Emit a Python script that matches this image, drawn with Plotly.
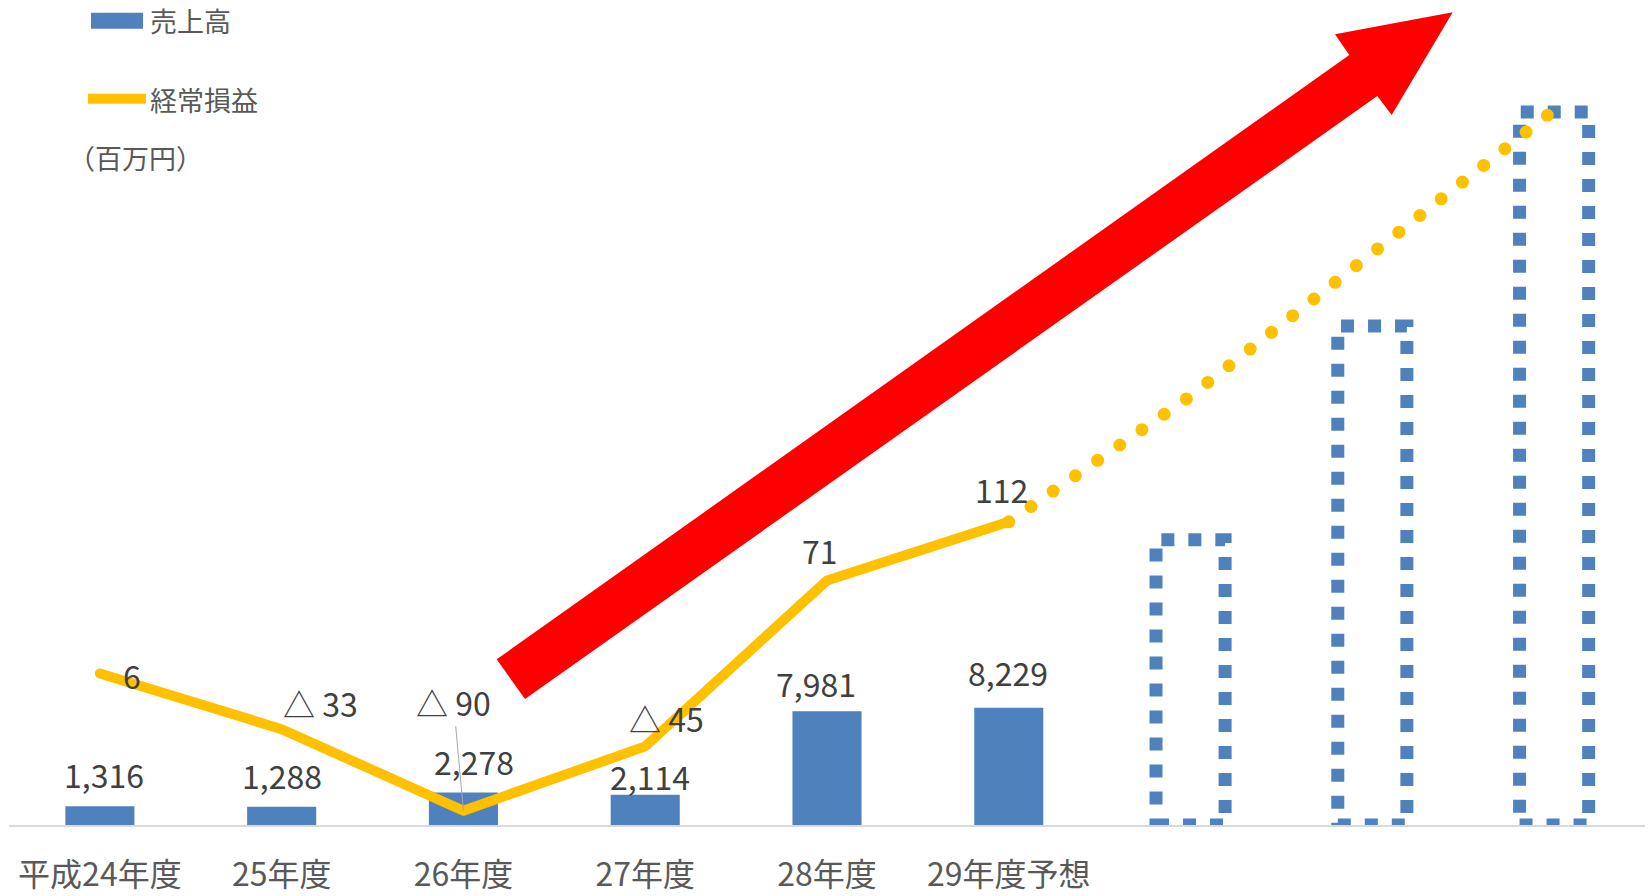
import plotly.graph_objects as go

# ---------------- data ----------------
categories = ["平成24年度", "25年度", "26年度", "27年度", "28年度", "29年度予想"]
sales = [1316, 1288, 2278, 2114, 7981, 8229]          # 売上高 (百万円)
profit = [6, -33, -90, -45, 71, 112]                    # 経常損益 (百万円)
proj_sales = [20000, 35000, 50000]                      # 目標 売上高 (dotted bars)
proj_profit = [200, 300, 400]                           # 目標 経常損益 (dotted line)

# ---------------- styles / layout ----------------
W, H = 1652, 896
ML, MR, MT, MB = 9, 7, 20, 71
PW, PH = W - ML - MR, H - MT - MB
FONT = "Noto Sans CJK JP"
BLUE = "#4F81BD"
YELLOW = "#FFC000"
RED = "#FF0000"
BAR_W = 0.38

# label offsets (px) : bars
bar_lbl_dx = [4, 0, 11, 5, -11, -1]
bar_lbl_dy = [32, 32, 32, 19, 28, 36]
# label offsets (px) : line
line_lbl_dx = [32, 39, -10, 21, -7, -7]
line_lbl_dy = [-2, 26, 0, 28, 30, 33]


def px(x, y):
    """pixel position in page -> paper coordinates"""
    return (x - ML) / PW, (H - MB - y) / PH


def fmt(v):
    return f"{v:,}" if v >= 0 else f"△ {abs(v):,}"


xs = list(range(len(categories)))
proj_x = [len(categories) + i for i in range(len(proj_sales))]
n_all = len(categories) + len(proj_sales)

fig = go.Figure()

fig.add_trace(go.Bar(
    x=xs, y=sales, width=BAR_W, marker=dict(color=BLUE, line=dict(width=0)),
    name="売上高", showlegend=False, hoverinfo="skip",
))

fig.add_trace(go.Scatter(
    x=xs, y=profit, yaxis="y2", mode="lines",
    line=dict(color=YELLOW, width=10), name="経常損益", showlegend=False,
    hoverinfo="skip",
))

fig.add_trace(go.Scatter(
    x=[xs[-1]] + proj_x, y=[profit[-1]] + proj_profit, yaxis="y2", mode="lines",
    line=dict(color=YELLOW, width=13, dash="0px,27px"), showlegend=False,
    hoverinfo="skip",
))

shapes = []
# dotted projection bars
for xv, v in zip(proj_x, proj_sales):
    shapes.append(dict(
        type="rect", xref="x", yref="y", x0=xv - BAR_W / 2, x1=xv + BAR_W / 2,
        y0=0, y1=v, line=dict(color=BLUE, width=13, dash="13px,14px"),
        fillcolor="rgba(0,0,0,0)", layer="below",
    ))

# red arrow
arrow_px = [(496.7, 659.3), (1349.3, 55), (1335, 34.3), (1452.7, 12.3),
            (1391.7, 115), (1377.3, 96), (525, 699)]
pts = [px(a, b) for a, b in arrow_px]
path = "M " + " L ".join(f"{a:.5f},{b:.5f}" for a, b in pts) + " Z"
shapes.append(dict(type="path", xref="paper", yref="paper", path=path,
                   fillcolor=RED, line=dict(width=0), layer="above"))

# custom legend
x0, y0 = px(91, 12.7)
x1, y1 = px(143, 28.7)
shapes.append(dict(type="rect", xref="paper", yref="paper", x0=x0, x1=x1, y0=y0, y1=y1,
                   fillcolor=BLUE, line=dict(width=0)))
lx0, ly = px(88, 98.7)
lx1, _ = px(146, 98.7)
shapes.append(dict(type="line", xref="paper", yref="paper", x0=lx0, x1=lx1, y0=ly, y1=ly,
                   line=dict(color=YELLOW, width=10)))

annotations = []
for txt, (ax_, ay_), size in [("売上高", (148, 20), 27), ("経常損益", (148, 99), 27),
                              ("（百万円）", (66, 157), 27)]:
    xp_, yp_ = px(ax_, ay_)
    annotations.append(dict(xref="paper", yref="paper", x=xp_, y=yp_, text=txt,
                            showarrow=False, xanchor="left", yanchor="middle",
                            font=dict(family=FONT, size=size, color="#595959")))

# bar value labels
for i, v in enumerate(sales):
    annotations.append(dict(x=i, y=v, xref="x", yref="y", text=fmt(v), showarrow=False,
                            xanchor="center", yanchor="middle",
                            xshift=bar_lbl_dx[i], yshift=bar_lbl_dy[i],
                            font=dict(family=FONT, size=32, color="#404040")))

# line value labels
for i, v in enumerate(profit):
    if i == 2:
        annotations.append(dict(x=i, y=v, xref="x", yref="y2", text=fmt(v),
                                showarrow=True, arrowhead=0, arrowwidth=1,
                                arrowcolor="#A6A6A6", ax=-10, ay=-109,
                                font=dict(family=FONT, size=32, color="#404040")))
    else:
        annotations.append(dict(x=i, y=v, xref="x", yref="y2", text=fmt(v), showarrow=False,
                                xanchor="center", yanchor="middle",
                                xshift=line_lbl_dx[i], yshift=line_lbl_dy[i],
                                font=dict(family=FONT, size=32, color="#404040")))

fig.update_layout(
    width=W, height=H,
    margin=dict(l=ML, r=MR, t=MT, b=MB, autoexpand=False),
    paper_bgcolor="white", plot_bgcolor="white",
    showlegend=False,
    xaxis=dict(range=[-0.5, n_all - 0.5], tickmode="array", tickvals=xs, ticktext=categories,
               showgrid=False, zeroline=False, showline=True, linecolor="#D9D9D9",
               linewidth=2, ticks="", ticklabelstandoff=21, automargin=False,
               tickfont=dict(family=FONT, size=32, color="#595959")),
    yaxis=dict(range=[0, 805 / 0.01426], visible=False, showgrid=False, zeroline=False,
               automargin=False),
    yaxis2=dict(range=[-100, -100 + 805 / 1.43], overlaying="y", visible=False,
                showgrid=False, zeroline=False, automargin=False),
    shapes=shapes,
    annotations=annotations,
)

css = ("document.body.style.margin='0';"
       "var s=document.createElement('style');"
       "s.innerHTML='body{margin:0;overflow:hidden;} .scatterlayer .js-line{stroke-linecap:round;stroke-linejoin:round;}';"
       "document.head.appendChild(s);")
fig.write_html("out.html", config={"displayModeBar": False}, post_script=css)
